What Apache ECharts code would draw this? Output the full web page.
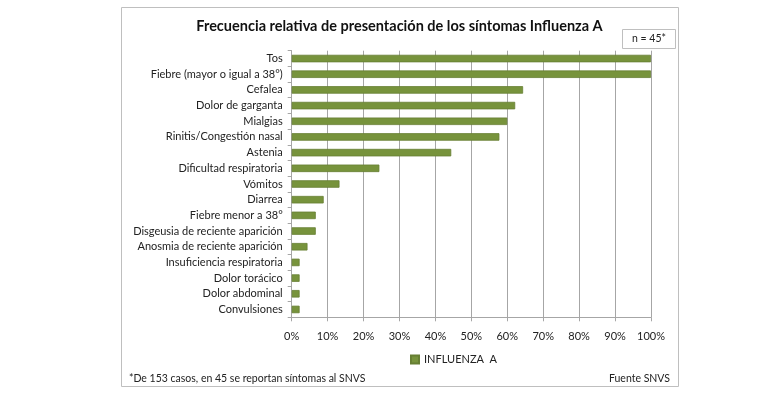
<!DOCTYPE html>
<html>
<head>
<meta charset="utf-8">
<script src="https://cdn.jsdelivr.net/npm/echarts@6/dist/echarts.min.js"></script>
<style>
html,body{margin:0;padding:0;background:#fff;}
#chart{width:783px;height:408px;}
</style>
</head>
<body>
<div id="chart"></div>
<script>
const categories = [
  "Tos",
  "Fiebre (mayor o igual a 38°)",
  "Cefalea",
  "Dolor de garganta",
  "Mialgias",
  "Rinitis/Congestión nasal",
  "Astenia",
  "Dificultad respiratoria",
  "Vómitos",
  "Diarrea",
  "Fiebre menor a 38°",
  "Disgeusia de reciente aparición",
  "Anosmia de reciente aparición",
  "Insuficiencia respiratoria",
  "Dolor torácico",
  "Dolor abdominal",
  "Convulsiones"
];
const influenzaA = [100, 100, 64.4, 62.2, 60, 57.8, 44.4, 24.4, 13.3, 8.9, 6.7, 6.7, 4.4, 2.2, 2.2, 2.2, 2.2];
const seriesName = "INFLUENZA  A";
const titleText = "Frecuencia relativa de presentación de los síntomas Influenza A";
const nText = "n = 45*";
const footLeft = "*De 153 casos, en 45 se reportan síntomas al SNVS";
const footRight = "Fuente SNVS";

const FONT = "Lato";
const chart = echarts.init(document.getElementById('chart'), null, {renderer: 'canvas'});
chart.setOption({
  animation: false,
  backgroundColor: '#fff',
  textStyle: {fontFamily: FONT},
  legend: {
    data: [seriesName],
    top: 349, left: 405,
    itemWidth: 8, itemHeight: 8, itemGap: 6,
    icon: 'rect',
    textStyle: {fontFamily: FONT, fontSize: 11, color: '#222'}
  },
  grid: {left: 291.7, right: 132, top: 50.7, bottom: 90.7, containLabel: false},
  xAxis: {
    type: 'value', min: 0, max: 100, interval: 10,
    axisLabel: {formatter: '{value}%', fontFamily: FONT, fontSize: 11, color: '#222', margin: 14},
    axisLine: {show: true, lineStyle: {color: '#a6a6a6'}},
    axisTick: {show: true, length: 4, lineStyle: {color: '#a6a6a6'}},
    splitLine: {show: true, lineStyle: {color: '#a6a6a6', width: 1}}
  },
  yAxis: {
    type: 'category', data: categories, inverse: true,
    axisLabel: {fontFamily: FONT, fontSize: 11, color: '#222', margin: 9},
    axisLine: {show: true, lineStyle: {color: '#a6a6a6'}},
    axisTick: {show: true, length: 4, lineStyle: {color: '#a6a6a6'}}
  },
  series: [{
    name: seriesName, type: 'bar', data: influenzaA,
    barWidth: 7.5,
    itemStyle: {color: '#77933C', borderColor: '#677f33', borderWidth: 0.8}
  }],
  graphic: [
    {type: 'rect', shape: {x: 121.5, y: 7.5, width: 557, height: 379}, style: {fill: 'none', stroke: '#bfbfbf', lineWidth: 1}, z: -1},
    {type: 'text', x: 399.5, y: 26, style: {text: titleText, fontFamily: FONT, fontSize: 14.5, fontWeight: 'bold', fill: '#111', align: 'center', verticalAlign: 'middle'}},
    {type: 'rect', shape: {x: 622.5, y: 29.5, width: 53, height: 19}, style: {fill: '#fff', stroke: '#bfbfbf', lineWidth: 1}},
    {type: 'text', x: 649, y: 39, style: {text: nText, fontFamily: FONT, fontSize: 10.5, fill: '#222', align: 'center', verticalAlign: 'middle'}},
    {type: 'text', x: 129, y: 379, style: {text: footLeft, fontFamily: FONT, fontSize: 10.5, fill: '#222', align: 'left', verticalAlign: 'middle'}},
    {type: 'text', x: 670, y: 379, style: {text: footRight, fontFamily: FONT, fontSize: 10.5, fill: '#222', align: 'right', verticalAlign: 'middle'}}
  ]
});
</script>
</body>
</html>
